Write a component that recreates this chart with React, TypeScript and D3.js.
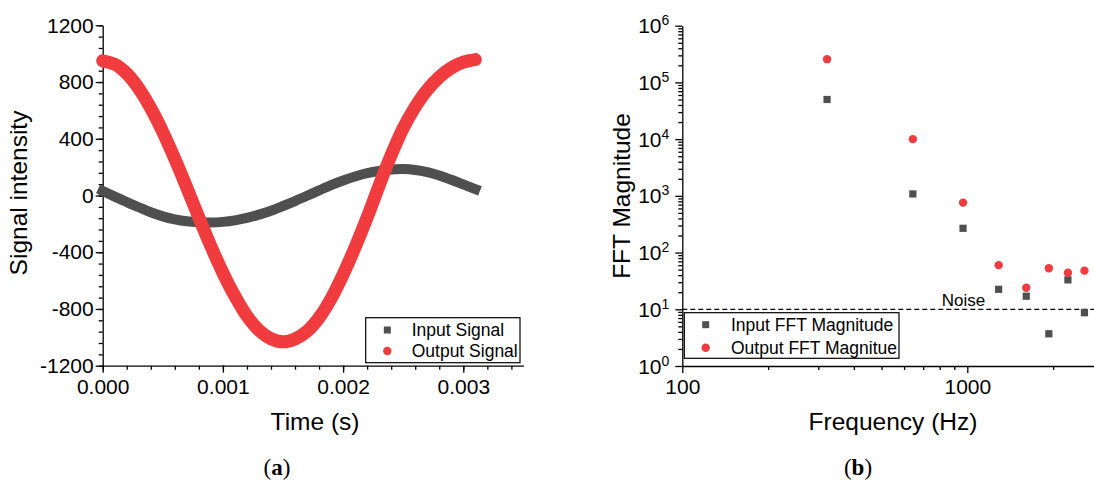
import React, { useRef, useEffect } from "react";
import * as d3 from "d3";

// (a) time-domain signals, read every 0.1 ms off the plot
const timeS = [
  0, 0.0001, 0.0002, 0.0003, 0.0004, 0.0005, 0.0006, 0.0007, 0.0008, 0.0009,
  0.001, 0.0011, 0.0012, 0.0013, 0.0014, 0.0015, 0.0016, 0.0017, 0.0018, 0.0019,
  0.002, 0.0021, 0.0022, 0.0023, 0.0024, 0.0025, 0.0026, 0.0027, 0.0028, 0.0029,
  0.003, 0.0031,
];
const inputSignal = [
  32, -8, -46, -83, -118, -147, -168, -182, -189, -191, -186, -175, -158, -135,
  -107, -74, -39, -2, 36, 73, 106, 134, 157, 173, 183, 186, 180, 165, 141, 111,
  78, 45,
];
const outputSignal = [
  950, 925, 860, 755, 615, 448, 258, 55, -155, -358, -545, -710, -850, -950,
  -1010, -1032, -1012, -957, -862, -727, -557, -365, -155, 70, 285, 475, 625,
  745, 835, 900, 940, 958,
];
const timeTicks = [0, 0.001, 0.002, 0.003];
const intensityTicks = [-1200, -800, -400, 0, 400, 800, 1200];

// (b) FFT harmonics
const freqHz = [322, 644, 966, 1288, 1610, 1932, 2254, 2576];
const inputFFT = [50000, 1080, 268, 22.5, 17, 3.7, 33, 8.7];
const outputFFT = [257000, 10000, 760, 60, 24, 53, 44, 48];
const noiseLevel = 10;
const freqTicks = [100, 1000];
const magTicks = [1, 10, 100, 1000, 10000, 100000, 1000000];

const GRAY = "#4f4f4f";
const RED = "#f03c3f";
const FONT = "'Liberation Sans', Arial, Helvetica, sans-serif";
const SERIF = "'Liberation Serif', 'Times New Roman', serif";

const App = () => {
  const svgRef = useRef<SVGSVGElement>(null);

  useEffect(() => {
    const svg = d3.select(svgRef.current);
    svg.selectAll("*").remove();

    const styleAxis = (g: any) => {
      g.attr("font-family", FONT).attr("font-size", 21);
      g.selectAll("path, line").attr("stroke", "#000").attr("stroke-width", 1.3);
      g.selectAll("text").attr("fill", "#000");
    };

    // ---------- (a) ----------
    const x = d3.scaleLinear().domain([0, 0.0035]).range([102.7, 523.4]);
    const y = d3.scaleLinear().domain([-1200, 1200]).range([365.7, 25.3]);
    const a = svg.append("g");

    a.append("g")
      .attr("transform", `translate(0,${y(-1200)})`)
      .call(d3.axisBottom(x).tickValues(d3.range(0, 0.00351, 0.0002)).tickSize(4).tickFormat(() => ""))
      .call((g) => g.select(".domain").remove())
      .call(styleAxis);
    a.append("g")
      .attr("transform", `translate(${x(0)},0)`)
      .call(d3.axisLeft(y).tickValues(d3.range(-1200, 1201, 80)).tickSize(4).tickFormat(() => ""))
      .call((g) => g.select(".domain").remove())
      .call(styleAxis);
    a.append("g")
      .attr("transform", `translate(0,${y(-1200)})`)
      .call(d3.axisBottom(x).tickValues(timeTicks).tickSize(7).tickSizeOuter(0).tickPadding(6).tickFormat(d3.format(".3f")))
      .call(styleAxis);
    a.append("g")
      .attr("transform", `translate(${x(0)},0)`)
      .call(d3.axisLeft(y).tickValues(intensityTicks).tickSize(7).tickSizeOuter(0).tickPadding(2).tickFormat((d) => String(d)))
      .call(styleAxis);

    const line = d3
      .line<number>()
      .x((d, i) => x(timeS[i]))
      .y((d) => y(d))
      .curve(d3.curveCatmullRom);

    a.append("path")
      .datum(inputSignal)
      .attr("fill", "none")
      .attr("stroke", GRAY)
      .attr("stroke-width", 10)
      .attr("stroke-linecap", "square")
      .attr("d", line);
    a.append("path")
      .datum(outputSignal)
      .attr("fill", "none")
      .attr("stroke", RED)
      .attr("stroke-width", 13)
      .attr("stroke-linecap", "round")
      .attr("d", line);

    // legend (a)
    const la = a.append("g").attr("font-family", FONT).attr("font-size", 17.5);
    la.append("rect").attr("x", 365.7).attr("y", 317.7).attr("width", 154.3).attr("height", 45)
      .attr("fill", "#fff").attr("stroke", "#000").attr("stroke-width", 1.2);
    la.append("rect").attr("x", 383.8).attr("y", 326.5).attr("width", 7).attr("height", 7).attr("fill", GRAY);
    la.append("circle").attr("cx", 387.3).attr("cy", 351).attr("r", 4.2).attr("fill", RED);
    la.append("text").attr("x", 411.7).attr("y", 336.2).text("Input Signal");
    la.append("text").attr("x", 411.7).attr("y", 357.3).text("Output Signal");

    a.append("text")
      .attr("font-family", FONT).attr("font-size", 24.5).attr("text-anchor", "middle")
      .attr("x", (x(0) + x(0.0035)) / 2 + 2).attr("y", 430).text("Time (s)");
    a.append("text")
      .attr("font-family", FONT).attr("font-size", 24.5).attr("text-anchor", "middle")
      .attr("transform", "translate(27,193) rotate(-90)").text("Signal intensity");

    // ---------- (b) ----------
    const xr = d3.scaleLog().domain([100, 3000]).range([682.3, 1103.3]);
    const yr = d3.scaleLog().domain([1, 1e6]).range([366, 25.7]);
    const b = svg.append("g");

    const magMinor: number[] = [];
    magTicks.slice(0, -1).forEach((d) => d3.range(2, 10).forEach((m) => magMinor.push(d * m)));

    b.append("g")
      .attr("transform", `translate(0,${yr(1)})`)
      .call(d3.axisBottom(xr).tickValues([200, 300, 400, 500, 600, 700, 800, 900, 2000, 3000]).tickSize(4).tickFormat(() => ""))
      .call((g) => g.select(".domain").remove())
      .call(styleAxis);
    b.append("g")
      .attr("transform", `translate(${xr(100)},0)`)
      .call(d3.axisLeft(yr).tickValues(magMinor).tickSize(4).tickFormat(() => ""))
      .call((g) => g.select(".domain").remove())
      .call(styleAxis);
    b.append("g")
      .attr("transform", `translate(0,${yr(1)})`)
      .call(d3.axisBottom(xr).tickValues(freqTicks).tickSize(7).tickSizeOuter(0).tickPadding(6).tickFormat(d3.format("d")))
      .call(styleAxis);
    b.append("g")
      .attr("transform", `translate(${xr(100)},0)`)
      .call(d3.axisLeft(yr).tickValues(magTicks).tickSize(7).tickSizeOuter(0).tickFormat(() => ""))
      .call(styleAxis);

    const yl = b.append("g").attr("font-family", FONT).attr("text-anchor", "end");
    magTicks.forEach((v) => {
      const t = yl.append("text").attr("x", xr(100) - 13).attr("y", yr(v) + 7.5);
      t.append("tspan").attr("font-size", 21).text("10");
      t.append("tspan").attr("font-size", 14).attr("dy", -8).text(String(Math.round(Math.log10(v))));
    });

    // noise level
    b.append("line")
      .attr("x1", xr(100)).attr("x2", 1094).attr("y1", yr(noiseLevel)).attr("y2", yr(noiseLevel))
      .attr("stroke", "#000").attr("stroke-width", 1.3).attr("stroke-dasharray", "5,3");
    b.append("text")
      .attr("font-family", FONT).attr("font-size", 17).attr("x", 941.7).attr("y", 306).text("Noise");

    b.selectAll(".in")
      .data(freqHz)
      .join("rect")
      .attr("x", (d) => xr(d) - 3.6)
      .attr("y", (d, i) => yr(inputFFT[i]) - 3.6)
      .attr("width", 7.2)
      .attr("height", 7.2)
      .attr("fill", GRAY);
    b.selectAll(".out")
      .data(freqHz)
      .join("circle")
      .attr("cx", (d) => xr(d))
      .attr("cy", (d, i) => yr(outputFFT[i]))
      .attr("r", 4.2)
      .attr("fill", RED);

    // legend (b)
    const lb = b.append("g").attr("font-family", FONT).attr("font-size", 17.5);
    lb.append("rect").attr("x", 684.3).attr("y", 312.7).attr("width", 214.7).attr("height", 45.6)
      .attr("fill", "#fff").attr("stroke", "#000").attr("stroke-width", 1.2);
    lb.append("rect").attr("x", 702.2).attr("y", 321.2).attr("width", 7).attr("height", 7).attr("fill", GRAY);
    lb.append("circle").attr("cx", 705.7).attr("cy", 347.7).attr("r", 4.2).attr("fill", RED);
    lb.append("text").attr("x", 731).attr("y", 330.8).text("Input FFT Magnitude");
    lb.append("text").attr("x", 731).attr("y", 353.8).text("Output FFT Magnitue");

    b.append("text")
      .attr("font-family", FONT).attr("font-size", 24.5).attr("text-anchor", "middle")
      .attr("x", 893).attr("y", 430).text("Frequency (Hz)");
    b.append("text")
      .attr("font-family", FONT).attr("font-size", 24.5).attr("text-anchor", "middle")
      .attr("transform", "translate(630,196) rotate(-90)").text("FFT Magnitude");

    // panel labels
    [
      { cx: 277, label: "a" },
      { cx: 858, label: "b" },
    ].forEach((p) => {
      const t = svg.append("text")
        .attr("font-family", SERIF).attr("font-size", 23).attr("text-anchor", "middle")
        .attr("x", p.cx).attr("y", 475);
      t.append("tspan").text("(");
      t.append("tspan").attr("font-weight", "bold").text(p.label);
      t.append("tspan").text(")");
    });
  }, []);

  return (
    <svg
      ref={svgRef}
      width={1094}
      height={481}
      style={{ position: "absolute", left: 0, top: 0, background: "#fff" }}
    ></svg>
  );
};

export default App;
